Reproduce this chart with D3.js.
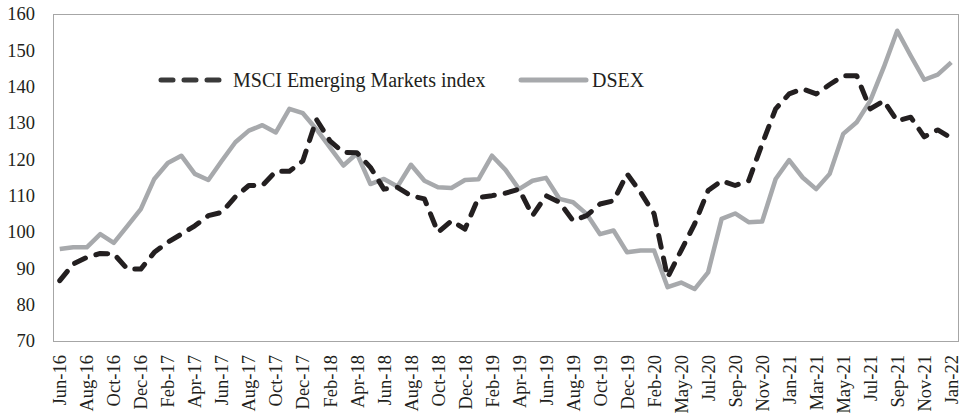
<!DOCTYPE html>
<html>
<head>
<meta charset="utf-8">
<script src="https://cdn.jsdelivr.net/npm/d3@7"></script>
<style>
  body { margin: 0; background: #fff; }
  svg { display: block; }
</style>
</head>
<body>
<div id="chart"></div>
<script>
// month categories (Apr-20 is absent in the source data)
const months = [
  'Jun-16','Jul-16','Aug-16','Sep-16','Oct-16','Nov-16','Dec-16',
  'Jan-17','Feb-17','Mar-17','Apr-17','May-17','Jun-17','Jul-17','Aug-17','Sep-17','Oct-17','Nov-17','Dec-17',
  'Jan-18','Feb-18','Mar-18','Apr-18','May-18','Jun-18','Jul-18','Aug-18','Sep-18','Oct-18','Nov-18','Dec-18',
  'Jan-19','Feb-19','Mar-19','Apr-19','May-19','Jun-19','Jul-19','Aug-19','Sep-19','Oct-19','Nov-19','Dec-19',
  'Jan-20','Feb-20','Mar-20','May-20','Jun-20','Jul-20','Aug-20','Sep-20','Oct-20','Nov-20','Dec-20',
  'Jan-21','Feb-21','Mar-21','Apr-21','May-21','Jun-21','Jul-21','Aug-21','Sep-21','Oct-21','Nov-21','Dec-21',
  'Jan-22'
]

const msci = [
  86.6, 91.2, 93, 94.1, 94, 89.8, 89.8, 94.4, 97.2, 99.4, 101.7,
  104.5, 105.4, 109.7, 112.8, 112.8, 116.7, 116.7, 119.6, 131, 125.1, 121.9, 121.8,
  117.8, 111.8, 112.3, 110, 109.1, 99.9, 103.1, 100.8, 109.5, 110, 110.7,
  111.8, 104.5, 110, 108.2, 103.1, 104.5, 107.7, 108.6, 116, 110.9, 105,
  87.5, 94.9, 102.2, 111.4, 114.1, 112.8, 114.1, 124.2, 133.9, 138, 139.4,
  138, 140.6, 143, 143, 133.9, 136.1, 130.6, 131.6, 126.2, 128.1, 125.9
]

const dsex = [
  95.3, 95.8, 95.8, 99.4, 97, 101.6, 106.3, 114.6, 119, 121, 116,
  114.3, 119.6, 124.7, 127.9, 129.4, 127.4, 133.9, 132.7, 128.3, 123.3, 118.3, 121.6,
  113.2, 114.6, 112.5, 118.5, 114.1, 112.3, 112.1, 114.3, 114.5, 121, 117.1,
  111.8, 114.1, 114.9, 109.1, 108.2, 105, 99.4, 100.4, 94.4, 94.9, 94.9,
  84.8, 86.1, 84.3, 88.9, 103.6, 105.1, 102.7, 102.9, 114.6, 119.8, 115,
  111.8, 116, 127, 130.2, 136.1, 145.3, 155.4, 148.5, 141.9, 143.3, 146.7
]

const yTicks = [70, 80, 90, 100, 110, 120, 130, 140, 150, 160]
const seriesNames = ['MSCI Emerging Markets index', 'DSEX']

const width = 963
const height = 417
const margin = { top: 14, right: 5, bottom: 76, left: 53 }
const innerW = width - margin.left - margin.right
const innerH = height - margin.top - margin.bottom

const font = '"Liberation Serif", "Times New Roman", serif'
const textColor = '#231f20'

const svg = d3.select('#chart').append('svg')
  .attr('width', width)
  .attr('height', height)

const g = svg.append('g')
  .attr('transform', 'translate(' + margin.left + ',' + margin.top + ')')

// scales
const x = d3.scalePoint().domain(months).range([0, innerW]).padding(0.5)
const y = d3.scaleLinear().domain([70, 160]).range([innerH, 0])

// plot frame
g.append('rect')
  .attr('width', innerW)
  .attr('height', innerH)
  .attr('fill', 'none')
  .attr('stroke', '#a6a6a6')
  .attr('stroke-width', 1)
  .attr('shape-rendering', 'crispEdges')

// y axis
const yaxis = g.append('g')
  .attr('class', 'axis')
  .attr('transform', 'translate(-18,0)')
  .call(d3.axisLeft(y).tickValues(yTicks).tickSize(0).tickPadding(0))
yaxis.select('.domain').remove()

// x axis, every other month labelled
const xaxis = g.append('g')
  .attr('class', 'axis')
  .attr('transform', 'translate(0,' + innerH + ')')
  .call(d3.axisBottom(x).tickValues(months.filter((d, i) => i % 2 === 0)).tickSize(0))
xaxis.select('.domain').remove()
xaxis.selectAll('text')
  .attr('transform', 'rotate(-90)')
  .attr('x', -14)
  .attr('y', 0)
  .attr('dy', '0.33em')
  .style('text-anchor', 'end')

svg.selectAll('.axis text')
  .style('fill', textColor)
  .style('font-family', font)
  .style('font-size', '18.5px')

// lines
const line = d3.line()
  .x((d, i) => x(months[i]))
  .y(d => y(d))

g.append('path')
  .datum(dsex)
  .attr('fill', 'none')
  .attr('stroke', '#a7a9ac')
  .attr('stroke-width', 4.5)
  .attr('stroke-linejoin', 'round')
  .attr('d', line)

g.append('path')
  .datum(msci)
  .attr('fill', 'none')
  .attr('stroke', '#231f20')
  .attr('stroke-width', 5)
  .attr('stroke-linecap', 'round')
  .attr('stroke-linejoin', 'round')
  .attr('stroke-dasharray', '12,11')
  .attr('d', line)

// legend
const legend = svg.append('g').attr('transform', 'translate(0,80)')
const leg = [
  { name: seriesNames[0], x0: 161, x1: 222, tx: 233, color: '#3a3a3a', dash: '12,11', w: 5 },
  { name: seriesNames[1], x0: 521, x1: 586, tx: 592, color: '#a7a9ac', dash: null, w: 5 }
]
leg.forEach(d => {
  legend.append('line')
    .attr('x1', d.x0).attr('x2', d.x1)
    .attr('stroke', d.color)
    .attr('stroke-width', d.w)
    .attr('stroke-linecap', 'round')
    .attr('stroke-dasharray', d.dash)
  legend.append('text')
    .attr('x', d.tx)
    .attr('dy', '0.33em')
    .style('fill', textColor)
    .style('font-family', font)
    .style('font-size', '20px')
    .text(d.name)
})
</script>
</body>
</html>
